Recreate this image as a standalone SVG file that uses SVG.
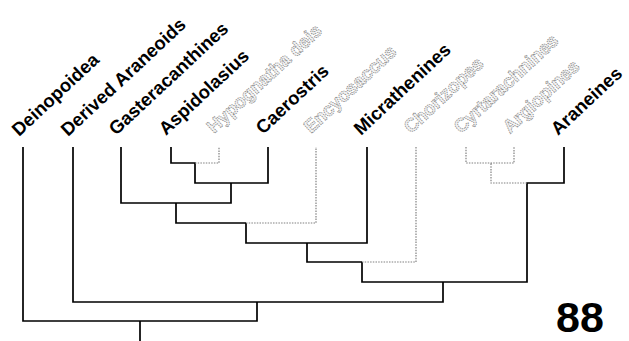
<svg xmlns="http://www.w3.org/2000/svg" width="629" height="341" viewBox="0 0 629 341">
<style>
.lbl{font-family:"Liberation Sans",Arial,sans-serif;font-weight:bold;font-size:18.5px;fill:#000}
.ghost{font-family:"Liberation Sans",Arial,sans-serif;font-weight:bold;font-size:18.5px;fill:#f4f4f4;stroke:#8c8c8c;stroke-width:0.9;stroke-dasharray:1.3 0.9}
.s{fill:none;stroke:#000;stroke-width:1.7}
.d{fill:none;stroke:#808080;stroke-width:1.2;stroke-dasharray:1.5 1.2}
.num{font-family:"Liberation Sans",Arial,sans-serif;font-weight:bold;font-size:43px;fill:#000}
</style>
<rect width="629" height="341" fill="#fff"/>
<g id="connectors">
<path class="s" d="M140,341V321M23,147V321H257V302M73,147V302H443V282"/>
<path class="s" d="M121,147V203H231V183M171,147V163H195V183H268V147M176,203V223H246M246,223V243H367V147M307,243V262H362M362,262V282H527V183H564V147"/>
<path class="d" d="M195,163H219V147M246,223H316V147M362,262H416V147M527,183H491V163M466,147V163H514V147"/>
</g>
<g id="n-deinopoidea"><text class="lbl" transform="translate(19,137) rotate(-43)">Deinopoidea</text></g>
<g id="n-derived-araneoids"><text class="lbl" transform="translate(68,137) rotate(-43)">Derived Araneoids</text></g>
<g id="n-gasteracanthines"><text class="lbl" transform="translate(116,136) rotate(-43)">Gasteracanthines</text></g>
<g id="n-aspidolasius"><text class="lbl" transform="translate(166,136) rotate(-43)">Aspidolasius</text></g>
<g id="n-hypognatha"><text class="ghost" transform="translate(214,134) rotate(-43)">Hypognatha deis</text></g>
<g id="n-caerostris"><text class="lbl" transform="translate(263,135) rotate(-43)">Caerostris</text></g>
<g id="n-encyosaccus"><text class="ghost" transform="translate(311,134) rotate(-43)">Encyosaccus</text></g>
<g id="n-micrathenines"><text class="lbl" transform="translate(361,136) rotate(-43)">Micrathenines</text></g>
<g id="n-chorizopes"><text class="ghost" transform="translate(411,134) rotate(-43)">Chorizopes</text></g>
<g id="n-cyrtarachnines"><text class="ghost" transform="translate(461,134) rotate(-43)">Cyrtarachnines</text></g>
<g id="n-argiopines"><text class="ghost" transform="translate(510,134) rotate(-43)">Argiopines</text></g>
<g id="n-araneines"><text class="lbl" transform="translate(558,136) rotate(-43)">Araneines</text></g>
<g id="figure-number"><text class="num" x="556" y="332">88</text></g>
</svg>
